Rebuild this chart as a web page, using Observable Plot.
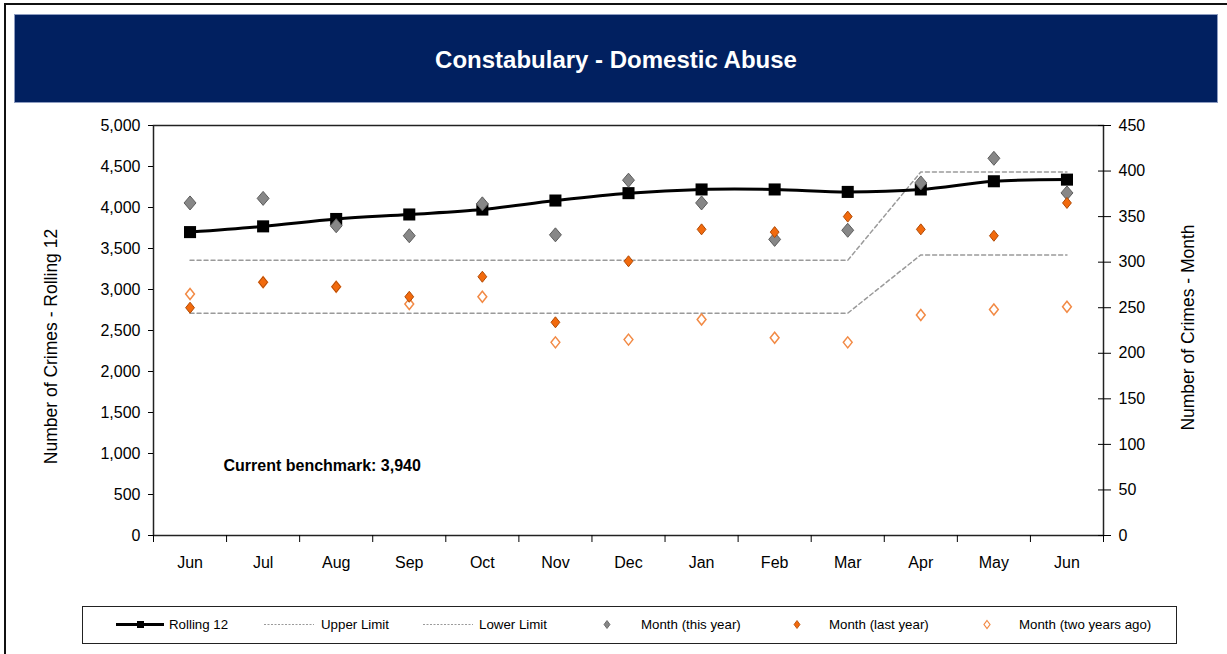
<!DOCTYPE html>
<html><head><meta charset="utf-8">
<script src="https://cdn.jsdelivr.net/npm/d3@7"></script>
<script src="https://cdn.jsdelivr.net/npm/@observablehq/plot@0.6"></script>
<style>
body{margin:0;background:#fff;font-family:"Liberation Sans",Arial,sans-serif;}
#wrap{position:relative;width:1227px;height:654px;overflow:hidden;background:#fff;}
#border{position:absolute;left:4px;top:3px;width:1300px;height:700px;border-left:2px solid #111;border-top:2px solid #111;}
#title{position:absolute;left:14px;top:14px;width:1204px;height:89px;background:#012060;border:1px solid #8d9cc0;box-sizing:border-box;color:#fff;font-weight:bold;font-size:24px;display:flex;align-items:center;justify-content:center;padding-top:2px;}
#chart{position:absolute;left:0;top:103px;}
#legend{position:absolute;left:82px;top:606px;width:1095px;height:38px;border:1.5px solid #222;box-sizing:border-box;background:#fff;}
</style></head>
<body><div id="wrap"><div id="border"></div><div id="title">Constabulary - Domestic Abuse</div><div id="chart"></div><div id="legend"></div></div>
<script>
const months = ["Jun","Jul","Aug","Sep","Oct","Nov","Dec","Jan","Feb","Mar","Apr","May","Jun"];
const rolling12 = [3700, 3770, 3860, 3915, 3975, 4085, 4175, 4220, 4220, 4190, 4220, 4320, 4340];
const upperLimit = [302, 302, 302, 302, 302, 302, 302, 302, 302, 302, 399, 399, 399];
const lowerLimit = [244, 244, 244, 244, 244, 244, 244, 244, 244, 244, 308, 308, 308];
const monthThisYear = [365, 370, 340, 329, 364, 330, 390, 365, 325, 335, 387, 414, 376];
const monthLastYear = [250, 278, 273, 262, 284, 234, 301, 336, 333, 350, 336, 329, 365];
const monthTwoYearsAgo = [265, 278, 273, 254, 262, 212, 215, 237, 217, 212, 242, 248, 251];
const leftTicks = [0, 500, 1000, 1500, 2000, 2500, 3000, 3500, 4000, 4500, 5000];
const rightTicks = [0, 50, 100, 150, 200, 250, 300, 350, 400, 450];
const leftMax = 5000, rightMax = 450;
const benchmark = "Current benchmark: 3,940";
const leftLabel = "Number of Crimes - Rolling 12";
const rightLabel = "Number of Crimes - Month";

const ratio = rightMax / leftMax;
const rows = months.map((m, i) => ({
  i, m,
  rolling: rolling12[i] * ratio,
  upper: upperLimit[i], lower: lowerLimit[i],
  thisY: monthThisYear[i], lastY: monthLastYear[i], twoY: monthTwoYearsAgo[i]
}));
const bounds = d3.range(-0.5, months.length, 1);
const diamond = (k) => ({draw(ctx, size) {
  const r = Math.sqrt(size / Math.PI), w = r * k;
  ctx.moveTo(0, -r); ctx.lineTo(w, 0); ctx.lineTo(0, r); ctx.lineTo(-w, 0); ctx.closePath();
}});
const FONT = '"Liberation Sans", Arial, sans-serif';

const chart = Plot.plot({
  width: 1227, height: 490,
  marginTop: 22, marginBottom: 58, marginLeft: 153, marginRight: 124,
  style: {fontFamily: FONT, fontSize: "16px", color: "#000", background: "transparent", overflow: "visible"},
  x: {type: "linear", domain: [-0.5, months.length - 0.5], axis: null, label: null},
  y: {domain: [0, rightMax], axis: null, label: null},
  marks: [
    Plot.line(rows, {x: "i", y: "upper", stroke: "#9a9a9a", strokeWidth: 1.5, strokeDasharray: "4,3"}),
    Plot.line(rows, {x: "i", y: "lower", stroke: "#9a9a9a", strokeWidth: 1.5, strokeDasharray: "4,3"}),
    Plot.line(rows, {x: "i", y: "rolling", stroke: "#000", strokeWidth: 3, curve: "catmull-rom"}),
    Plot.dot(rows, {x: "i", y: "rolling", symbol: "square", r: 6.8, fill: "#000"}),
    Plot.dot(rows, {x: "i", y: "thisY", symbol: diamond(0.85), r: 7, fill: "#878787", stroke: "#5c5c5c", strokeWidth: 1}),
    Plot.dot(rows, {x: "i", y: "twoY", symbol: diamond(0.8), r: 5.5, fill: "#fff", stroke: "#F28A45", strokeWidth: 1.5}),
    Plot.dot(rows, {x: "i", y: "lastY", symbol: diamond(0.8), r: 5.5, fill: "#F26A0D", stroke: "#B04A05", strokeWidth: 1}),
    Plot.frame({stroke: "#222", strokeWidth: 1.5}),
    Plot.axisY(leftTicks.map(v => v * ratio), {anchor: "left", label: null, tickSize: 5, tickPadding: 8, fontSize: 16,
      tickFormat: v => d3.format(",")(Math.round(v / ratio))}),
    Plot.axisY(rightTicks, {anchor: "right", label: null, tickSize: 13, insetRight: 6, tickPadding: 8, fontSize: 16}),
    Plot.axisX(bounds, {anchor: "bottom", label: null, tickSize: 7, tickFormat: () => ""}),
    Plot.axisX(d3.range(months.length), {anchor: "bottom", label: null, tickSize: 0, tickPadding: 21, fontSize: 16,
      tickFormat: i => months[i]}),
    Plot.text([leftLabel], {frameAnchor: "left", textAnchor: "middle", dx: -102, dy: 16, rotate: -90, fontSize: 17.5, fill: "#000"}),
    Plot.text([rightLabel], {frameAnchor: "right", textAnchor: "middle", dx: 85, dy: -3, rotate: -90, fontSize: 17.5, fill: "#000"}),
    Plot.text([benchmark], {frameAnchor: "bottom-left", dx: 70, dy: -65, textAnchor: "start", fontSize: 16, fontWeight: "bold", fill: "#000"})
  ]
});
document.getElementById("chart").appendChild(chart);

// legend
const legendItems = [
  {label: "Rolling 12", type: "line", sx: 33, tx: 86},
  {label: "Upper Limit", type: "dash", sx: 181, tx: 238},
  {label: "Lower Limit", type: "dash", sx: 340, tx: 396},
  {label: "Month (this year)", type: "grey", sx: 524, tx: 558},
  {label: "Month (last year)", type: "orange", sx: 714, tx: 746},
  {label: "Month (two years ago)", type: "hollow", sx: 904, tx: 936}
];
const lsvg = d3.select("#legend").append("svg").attr("width", 1092).attr("height", 35)
  .style("position", "absolute").style("left", "0").style("top", "0")
  .style("font-family", FONT).style("font-size", "13.3px");
const cy = 17.5;
const dpath = (w, h) => `M0,${-h}L${w},0L0,${h}L${-w},0Z`;
for (const it of legendItems) {
  const g = lsvg.append("g");
  if (it.type === "line") {
    g.append("line").attr("x1", it.sx).attr("x2", it.sx + 48).attr("y1", cy).attr("y2", cy).attr("stroke", "#000").attr("stroke-width", 3);
    g.append("rect").attr("x", it.sx + 21).attr("y", cy - 3.5).attr("width", 7).attr("height", 7).attr("fill", "#000");
  } else if (it.type === "dash") {
    g.append("line").attr("x1", it.sx).attr("x2", it.sx + 50).attr("y1", cy).attr("y2", cy).attr("stroke", "#9a9a9a").attr("stroke-width", 1.2).attr("stroke-dasharray", "2,1.5");
  } else if (it.type === "grey") {
    g.append("path").attr("d", dpath(3, 4)).attr("transform", `translate(${it.sx},${cy})`).attr("fill", "#878787").attr("stroke", "#5c5c5c").attr("stroke-width", 0.8);
  } else if (it.type === "orange") {
    g.append("path").attr("d", dpath(3, 4)).attr("transform", `translate(${it.sx},${cy})`).attr("fill", "#F26A0D").attr("stroke", "#B04A05").attr("stroke-width", 0.8);
  } else {
    g.append("path").attr("d", dpath(3, 4)).attr("transform", `translate(${it.sx},${cy})`).attr("fill", "#fff").attr("stroke", "#F28A45").attr("stroke-width", 1.2);
  }
  g.append("text").attr("x", it.tx).attr("y", cy).attr("dy", "0.35em").attr("fill", "#000").text(it.label);
}
</script>
</body></html>
